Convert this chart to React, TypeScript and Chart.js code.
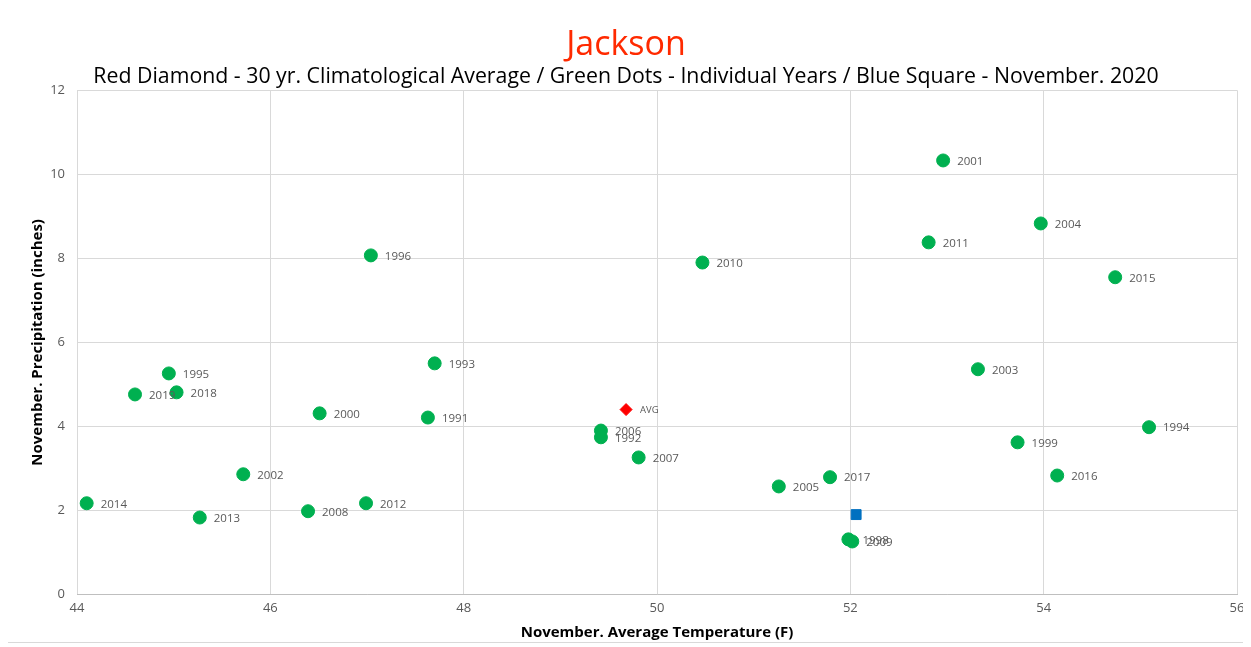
import React, { useEffect, useRef } from "react";
import { Chart, registerables } from "chart.js";

Chart.register(...registerables);

const yearLabels = ["2014","2019","1995","2018","2013","2002","2008","2000","2012","1996","1991","1993","2006","1992","2007","2010","2005","2017","1998","2009","2011","2001","2003","1999","2004","2016","2015","1994"];
const temps = [44.10,44.60,44.95,45.03,45.27,45.72,46.39,46.51,46.99,47.04,47.63,47.70,49.42,49.42,49.81,50.47,51.26,51.79,51.98,52.02,52.81,52.96,53.32,53.73,53.97,54.14,54.74,55.09];
const precips = [2.17,4.76,5.26,4.81,1.83,2.86,1.98,4.31,2.17,8.07,4.21,5.50,3.90,3.74,3.26,7.90,2.57,2.79,1.31,1.26,8.38,10.33,5.36,3.62,8.83,2.83,7.55,3.98];
const avgPoint = { temp: 49.68, precip: 4.40, label: "AVG" };
const currentPoint = { temp: 52.06, precip: 1.90 };

const titleText = "Jackson";
const subtitleText = "Red Diamond - 30 yr. Climatological Average / Green Dots - Individual Years / Blue Square - November. 2020";
const xTitle = "November. Average Temperature (F)";
const yTitle = "November. Precipitation (inches)";

const labelPlugin = {
  id: "pointLabels",
  afterDatasetsDraw(chart: any) {
    const ctx = chart.ctx;
    ctx.save();
    ctx.fillStyle = "#595959";
    ctx.textBaseline = "middle";
    ctx.textAlign = "left";
    const m0 = chart.getDatasetMeta(0);
    ctx.font = "11.5px 'Open Sans', sans-serif";
    m0.data.forEach((pt: any, i: number) => {
      ctx.fillText(yearLabels[i], pt.x + 14, pt.y + 1);
    });
    const m1 = chart.getDatasetMeta(1);
    ctx.font = "9.5px 'Open Sans', sans-serif";
    m1.data.forEach((pt: any) => {
      ctx.fillText(avgPoint.label, pt.x + 14, pt.y + 1);
    });
    ctx.restore();
  },
};

export default function App() {
  const ref = useRef<HTMLCanvasElement>(null);
  useEffect(() => {
    if (!ref.current) return;
    const chart = new Chart(ref.current, {
      type: "scatter",
      data: {
        datasets: [
          {
            label: "Years",
            data: temps.map((t, i) => ({ x: t, y: precips[i] })),
            backgroundColor: "#00B050",
            borderColor: "#00B050",
            pointRadius: 6.5,
            pointStyle: "circle",
          },
          {
            label: "AVG",
            data: [{ x: avgPoint.temp, y: avgPoint.precip }],
            backgroundColor: "#FF0000",
            borderColor: "#FF0000",
            pointRadius: 6,
            pointStyle: "rectRot",
          },
          {
            label: "2020",
            data: [{ x: currentPoint.temp, y: currentPoint.precip }],
            backgroundColor: "#0070C0",
            borderColor: "#0070C0",
            pointRadius: 7,
            pointStyle: "rect",
          },
        ],
      },
      options: {
        animation: false,
        responsive: false,
        maintainAspectRatio: false,
        layout: { padding: { left: 0, right: 0, top: 21, bottom: 0 } },
        plugins: {
          legend: { display: false },
          tooltip: { enabled: false },
          title: {
            display: true,
            text: titleText,
            color: "#FF2A00",
            font: { family: "'Open Sans', sans-serif", size: 34, weight: "normal" as any, lineHeight: 1.11 },
            padding: { top: 0, bottom: 0 },
          },
          subtitle: {
            display: true,
            text: subtitleText,
            color: "#000000",
            font: { family: "'Open Sans', sans-serif", size: 21.3, weight: "normal" as any },
            padding: { top: 0, bottom: 1 },
          },
        },
        scales: {
          x: {
            type: "linear",
            min: 44,
            max: 56,
            ticks: { stepSize: 2, color: "#595959", font: { family: "'Open Sans', sans-serif", size: 13 }, padding: 6 },
            grid: { color: "#D9D9D9", drawTicks: false },
            border: { color: "#BFBFBF" },
            title: { display: true, text: xTitle, color: "#000000", font: { family: "'Open Sans', sans-serif", size: 15, weight: "bold" as any }, padding: { top: 2, bottom: 0 } },
            afterFit: (s: any) => { s.paddingRight = 7; },
          },
          y: {
            type: "linear",
            min: 0,
            max: 12,
            ticks: { stepSize: 2, color: "#595959", font: { family: "'Open Sans', sans-serif", size: 13 }, padding: 12 },
            grid: { color: "#D9D9D9", drawTicks: false },
            border: { display: false },
            title: { display: true, text: yTitle, color: "#000000", font: { family: "'Open Sans', sans-serif", size: 15, weight: "bold" as any }, padding: { top: 22, bottom: 0 } },
            afterFit: (s: any) => { s.width = 70; },
          },
        },
      },
      plugins: [labelPlugin],
    });
    return () => chart.destroy();
  }, []);
  return (
    <div style={{ width: 1238, height: 637, border: "1px solid #D9D9D9", marginTop: -4, marginLeft: -2 }}>
      <canvas ref={ref} width={1238} height={637} style={{ display: "block" }} />
    </div>
  );
}
